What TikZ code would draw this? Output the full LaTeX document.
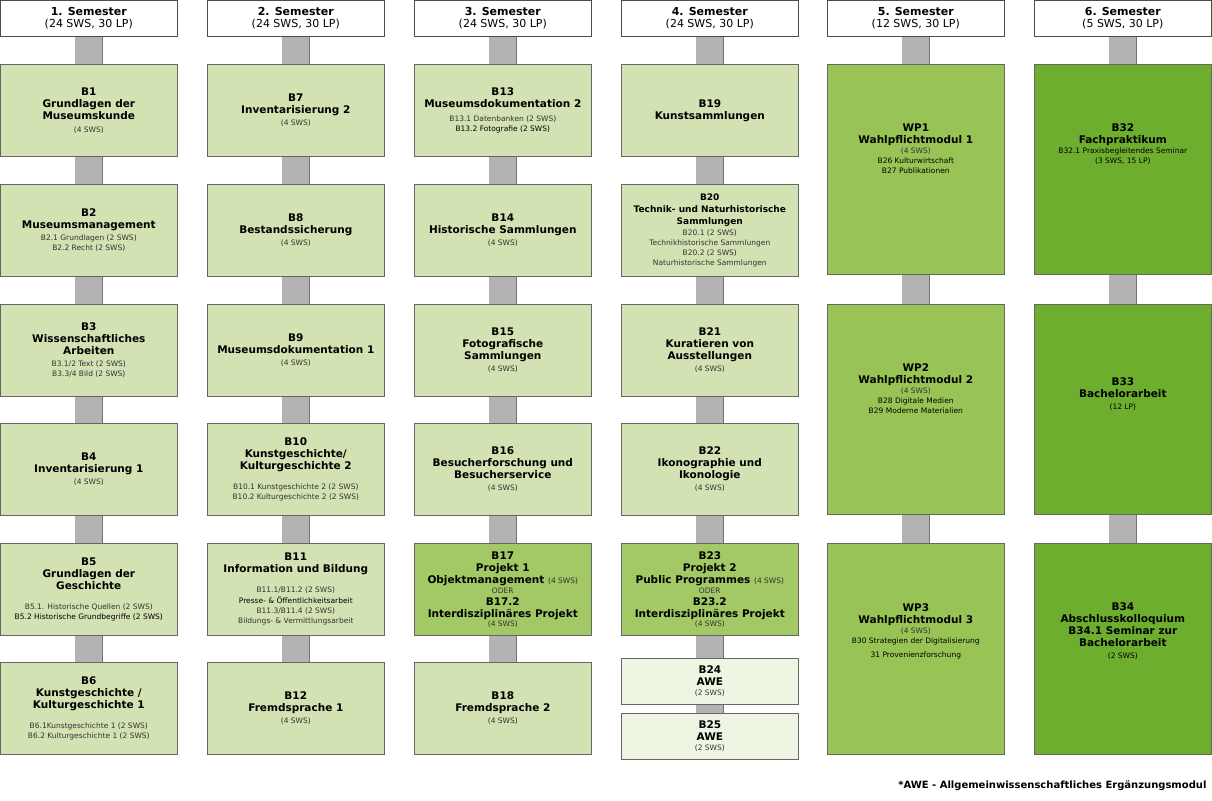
\documentclass[tikz,border=0pt]{standalone}
\usepackage{fontspec}
\setmainfont{DejaVu Sans}
\usetikzlibrary{backgrounds}
\definecolor{modlight}{HTML}{D3E2B2}
\definecolor{modproj}{HTML}{A3C966}
\definecolor{modwp}{HTML}{98C456}
\definecolor{modfinal}{HTML}{6DAE2E}
\definecolor{modawe}{HTML}{EEF5E2}
\definecolor{barfill}{HTML}{B3B3B3}
\definecolor{smalltext}{HTML}{333333}
\tikzset{
  semhead/.style={draw=black!70, fill=white, line width=0.6pt, minimum width=177pt, minimum height=36pt,
    anchor=north west, align=center, inner sep=0pt, font=\fontsize{11}{12}\selectfont},
  modul/.style={draw=black!60, line width=0.6pt, minimum width=177pt, anchor=north west,
    align=center, inner sep=1pt, font=\fontsize{10.5}{12}\selectfont\bfseries},
  bar/.style={draw=black!55, line width=0.6pt, double=barfill, double distance=27pt}
}
\newcommand{\sws}[1]{{\mdseries\fontsize{7.5}{9}\selectfont\color{smalltext}#1}}
\begin{document}
\begin{tikzpicture}[x=1pt,y=-1pt]
\useasboundingbox (0,0) rectangle (1212,800);
% semester heads
\foreach \i/\x/\l in {1/0/24 SWS, 2/207/24 SWS, 3/414/24 SWS, 4/621/24 SWS, 5/827/12 SWS, 6/1034/5 SWS}
  \node[semhead] (sem\i) at (\x,0) {\textbf{\i. Semester}\\(\l, 30 LP)};
% column 1
\node[modul, fill=modlight, minimum height=92pt] (b1) at (0,64) {B1\\Grundlagen der\\Museumskunde\\[1pt]\sws{(4 SWS)}};
\node[modul, fill=modlight, minimum height=92pt] (b2) at (0,184) {B2\\Museumsmanagement\\\sws{B2.1 Grundlagen (2 SWS)}\\[-2pt]\sws{B2.2 Recht (2 SWS)}};
\node[modul, fill=modlight, minimum height=92pt] (b3) at (0,304) {B3\\Wissenschaftliches\\Arbeiten\\\sws{B3.1/2 Text (2 SWS)}\\[-2pt]\sws{B3.3/4 Bild (2 SWS)}};
\node[modul, fill=modlight, minimum height=92pt] (b4) at (0,423) {B4\\Inventarisierung 1\\\sws{(4 SWS)}};
\node[modul, fill=modlight, minimum height=92pt] (b5) at (0,543) {B5\\Grundlagen der\\Geschichte\\[8pt]\sws{B5.1. Historische Quellen (2 SWS)}\\[-2pt]\sws{\color{black}B5.2 Historische Grundbegriffe (2 SWS)}};
\node[modul, fill=modlight, minimum height=92pt] (b6) at (0,662) {B6\\Kunstgeschichte /\\Kulturgeschichte 1\\[8pt]\sws{B6.1Kunstgeschichte 1 (2 SWS)}\\[-2pt]\sws{B6.2 Kulturgeschichte 1 (2 SWS)}};
% column 2
\node[modul, fill=modlight, minimum height=92pt] (b7) at (207,64) {B7\\Inventarisierung 2\\\sws{(4 SWS)}};
\node[modul, fill=modlight, minimum height=92pt] (b8) at (207,184) {B8\\Bestandssicherung\\\sws{(4 SWS)}};
\node[modul, fill=modlight, minimum height=92pt] (b9) at (207,304) {B9\\Museumsdokumentation 1\\\sws{(4 SWS)}};
\node[modul, fill=modlight, minimum height=92pt] (b10) at (207,423) {B10\\Kunstgeschichte/\\Kulturgeschichte 2\\[8pt]\sws{B10.1 Kunstgeschichte 2 (2 SWS)}\\[-2pt]\sws{B10.2 Kulturgeschichte 2 (2 SWS)}};
\node[modul, fill=modlight, minimum height=92pt] (b11) at (207,543) {B11\\Information und Bildung\\[8pt]\sws{B11.1/B11.2 (2 SWS)}\\[-1pt]\sws{\color{black}Presse- \& Öffentlichkeitsarbeit}\\[-2pt]\sws{B11.3/B11.4 (2 SWS)}\\[-2pt]\sws{Bildungs- \& Vermittlungsarbeit}};
\node[modul, fill=modlight, minimum height=92pt] (b12) at (207,662) {B12\\Fremdsprache 1\\\sws{(4 SWS)}};
% column 3
\node[modul, fill=modlight, minimum height=92pt] (b13) at (414,64) {B13\\Museumsdokumentation 2\\[2pt]\sws{B13.1 Datenbanken (2 SWS)}\\[-2pt]\sws{\color{black}B13.2 Fotografie (2 SWS)}};
\node[modul, fill=modlight, minimum height=92pt] (b14) at (414,184) {B14\\Historische Sammlungen\\\sws{(4 SWS)}};
\node[modul, fill=modlight, minimum height=92pt] (b15) at (414,304) {B15\\Fotografische\\Sammlungen\\\sws{(4 SWS)}};
\node[modul, fill=modlight, minimum height=92pt] (b16) at (414,423) {B16\\Besucherforschung und\\Besucherservice\\\sws{(4 SWS)}};
\node[modul, fill=modproj, minimum height=92pt] (b17) at (414,543) {B17\\Projekt 1\\Objektmanagement \sws{(4 SWS)}\\[-2pt]\sws{ODER}\\B17.2\\Interdisziplinäres Projekt\\[-3pt]\sws{(4 SWS)}};
\node[modul, fill=modlight, minimum height=92pt] (b18) at (414,662) {B18\\Fremdsprache 2\\\sws{(4 SWS)}};
% column 4
\node[modul, fill=modlight, minimum height=92pt] (b19) at (621,64) {B19\\Kunstsammlungen};
\node[modul, fill=modlight, minimum height=92pt] (b20) at (621,184) {\fontsize{9}{10}\selectfont B20\\\fontsize{9}{10}\selectfont Technik- und Naturhistorische\\\fontsize{9}{10}\selectfont Sammlungen\\[-1pt]\sws{B20.1 (2 SWS)}\\[-2pt]\sws{Technikhistorische Sammlungen}\\[-2pt]\sws{B20.2 (2 SWS)}\\[-2pt]\sws{Naturhistorische Sammlungen}};
\node[modul, fill=modlight, minimum height=92pt] (b21) at (621,304) {B21\\Kuratieren von\\Ausstellungen\\\sws{(4 SWS)}};
\node[modul, fill=modlight, minimum height=92pt] (b22) at (621,423) {B22\\Ikonographie und\\Ikonologie\\\sws{(4 SWS)}};
\node[modul, fill=modproj, minimum height=92pt] (b23) at (621,543) {B23\\Projekt 2\\Public Programmes \sws{(4 SWS)}\\[-2pt]\sws{ODER}\\B23.2\\Interdisziplinäres Projekt\\[-3pt]\sws{(4 SWS)}};
\node[modul, fill=modawe, minimum height=46pt] (b24) at (621,658) {B24\\AWE\\[-2pt]\sws{(2 SWS)}};
\node[modul, fill=modawe, minimum height=46pt] (b25) at (621,713) {B25\\AWE\\[-2pt]\sws{(2 SWS)}};
% column 5
\node[modul, fill=modwp, minimum height=210pt] (wp1) at (827,64) {WP1\\Wahlpflichtmodul 1\\[-2pt]\sws{(4 SWS)}\\[-2pt]\sws{\color{black}B26 Kulturwirtschaft}\\[-2pt]\sws{\color{black}B27 Publikationen}\\[30pt]};
\node[modul, fill=modwp, minimum height=210pt] (wp2) at (827,304) {WP2\\Wahlpflichtmodul 2\\[-2pt]\sws{(4 SWS)}\\[-2pt]\sws{\color{black}B28 Digitale Medien}\\[-2pt]\sws{\color{black}B29 Moderne Materialien}\\[30pt]};
\node[modul, fill=modwp, minimum height=211pt] (wp3) at (827,543) {WP3\\Wahlpflichtmodul 3\\[-2pt]\sws{(4 SWS)}\\[-2pt]\sws{\color{black}B30 Strategien der Digitalisierung}\\[2pt]\sws{\color{black}31 Provenienzforschung}\\[24pt]};
% column 6
\node[modul, fill=modfinal, minimum height=210pt] (b32) at (1034,64) {B32\\Fachpraktikum\\[-2pt]\sws{\color{black}B32.1 Praxisbegleitendes Seminar}\\[-2pt]\sws{\color{black}(3 SWS, 15 LP)}\\[40pt]};
\node[modul, fill=modfinal, minimum height=210pt] (b33) at (1034,304) {B33\\Bachelorarbeit\\\sws{\color{black}(12 LP)}\\[20pt]};
\node[modul, fill=modfinal, minimum height=211pt] (b34) at (1034,543) {B34\\Abschlusskolloquium\\B34.1 Seminar zur\\Bachelorarbeit\\\sws{\color{black}(2 SWS)}\\[24pt]};
% footnote
\node[anchor=east, font=\fontsize{10}{12}\selectfont\bfseries] (fn) at (1210,786) {*AWE - Allgemeinwissenschaftliches Ergänzungsmodul};
% connectors behind the boxes
\begin{scope}[on background layer]
  \draw[bar] (sem1.south) -- (b6.north);
  \draw[bar] (sem2.south) -- (b12.north);
  \draw[bar] (sem3.south) -- (b18.north);
  \draw[bar] (sem4.south) -- (b25.north);
  \draw[bar] (sem5.south) -- (wp3.north);
  \draw[bar] (sem6.south) -- (b34.north);
\end{scope}
\end{tikzpicture}
\end{document}
